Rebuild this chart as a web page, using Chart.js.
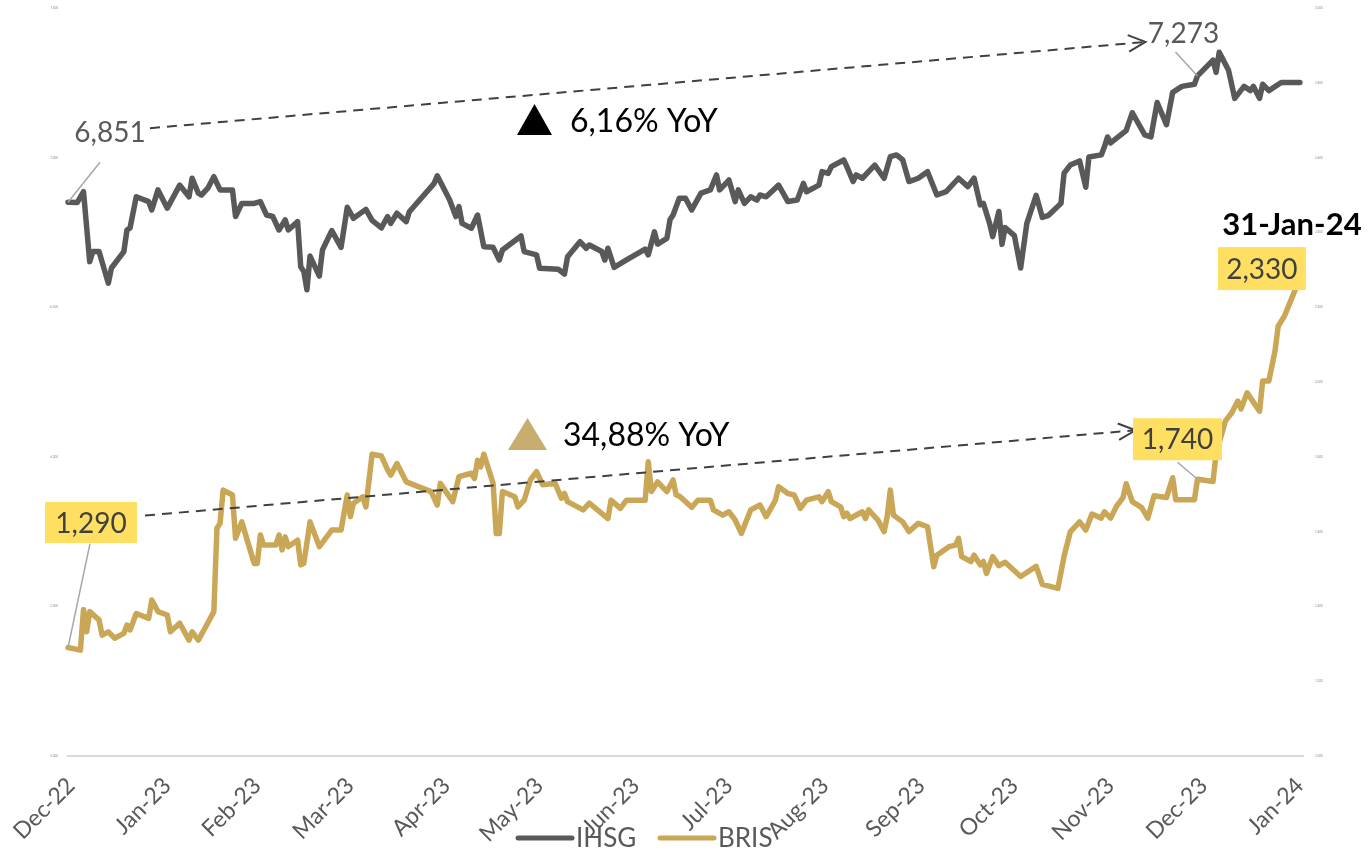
<!DOCTYPE html>
<html lang="en">
<head>
<meta charset="UTF-8">
<title>IHSG vs BRIS</title>
<script src="https://cdn.jsdelivr.net/npm/chart.js@4"></script>
<style>
  body { margin: 0; background: #fff; }
  .wrap { position: relative; width: 1370px; height: 851px; }
</style>
</head>
<body>
<div class="wrap"><canvas id="chart"></canvas></div>
<script>
// x values are days counted from 30-Dec-2022
const tickDays = [0, 31, 60, 90, 121, 151, 182, 212, 243, 274, 304, 335, 365, 396];
const tickLabels = ['Dec-22', 'Jan-23', 'Feb-23', 'Mar-23', 'Apr-23', 'May-23', 'Jun-23',
    'Jul-23', 'Aug-23', 'Sep-23', 'Oct-23', 'Nov-23', 'Dec-23', 'Jan-24'];

const ihsgDays = [
    0, 3, 5, 7, 8, 10, 13, 14, 18, 19,
    20, 22, 26, 27, 29, 32, 36, 39, 40, 42,
    43, 45, 47, 49, 53, 54, 56, 60, 62, 64,
    66, 68, 70, 71, 74, 75, 76, 77, 78, 81,
    82, 85, 88, 90, 92, 96, 98, 101, 103, 104,
    106, 109, 110, 118, 119, 123, 125, 126, 127, 130,
    132, 134, 137, 139, 140, 146, 147, 151, 152, 158,
    160, 161, 165, 167, 168, 172, 173, 174, 176, 180,
    186, 187, 189, 190, 193, 194, 195, 197, 199, 201,
    204, 207, 209, 210, 213, 215, 216, 218, 220, 222,
    223, 225, 229, 232, 235, 237, 238, 242, 243, 245,
    246, 250, 251, 253, 254, 256, 260, 263, 265, 267,
    269, 271, 274, 277, 280, 283, 287, 290, 292, 294,
    295, 297, 298, 300, 301, 302, 305, 307, 309, 312,
    314, 316, 320, 321, 323, 326, 328, 329, 333, 334,
    335, 336, 341, 343, 347, 349, 351, 354, 356, 359,
    363, 364, 369, 370, 371, 374, 376, 379, 381, 382,
    384, 385, 387, 391, 397
];
const ihsgValues = [
    6851, 6850, 6886, 6652, 6686, 6686, 6580, 6631, 6686, 6758,
    6765, 6869, 6853, 6825, 6892, 6831, 6908, 6869, 6931, 6881,
    6875, 6897, 6936, 6892, 6892, 6803, 6847, 6847, 6853, 6808,
    6803, 6758, 6792, 6758, 6786, 6635, 6619, 6558, 6671, 6604,
    6691, 6756, 6700, 6834, 6797, 6827, 6790, 6765, 6803, 6780,
    6814, 6786, 6819, 6914, 6939, 6858, 6803, 6836, 6780, 6764,
    6808, 6702, 6700, 6658, 6691, 6738, 6686, 6675, 6630, 6627,
    6611, 6669, 6719, 6697, 6708, 6686, 6658, 6697, 6633, 6658,
    6694, 6675, 6752, 6711, 6730, 6792, 6808, 6864, 6864, 6825,
    6881, 6892, 6942, 6892, 6925, 6853, 6892, 6847, 6869, 6858,
    6875, 6869, 6908, 6853, 6858, 6914, 6886, 6908, 6953, 6947,
    6970, 6992, 6970, 6920, 6942, 6931, 6975, 6931, 7003, 7009,
    6992, 6920, 6931, 6953, 6875, 6886, 6931, 6903, 6931, 6842,
    6847, 6780, 6736, 6820, 6710, 6766, 6739, 6631, 6780, 6874,
    6800, 6807, 6847, 6948, 6975, 6989, 6901, 7002, 7009, 7036,
    7069, 7049, 7090, 7150, 7076, 7069, 7184, 7110, 7218, 7238,
    7245, 7273, 7326, 7285, 7352, 7292, 7198, 7238, 7224, 7238,
    7198, 7245, 7224, 7251, 7251
];

const brisDays = [
    0, 4, 5, 6, 7, 10, 11, 13, 15, 18,
    19, 20, 22, 26, 27, 29, 32, 33, 36, 39,
    40, 42, 45, 47, 48, 49, 50, 53, 54, 56,
    60, 61, 62, 63, 67, 68, 69, 70, 71, 74,
    75, 76, 78, 81, 85, 88, 90, 91, 92, 95,
    96, 98, 101, 103, 104, 106, 109, 117, 119, 120,
    124, 126, 130, 131, 132, 133, 134, 137, 138, 139,
    140, 144, 145, 147, 149, 151, 153, 157, 159, 160,
    161, 166, 168, 174, 175, 178, 180, 186, 187, 188,
    190, 193, 195, 196, 197, 201, 203, 207, 208, 211,
    213, 215, 217, 220, 223, 225, 228, 229, 232, 234,
    236, 238, 242, 243, 245, 246, 249, 250, 251, 252,
    256, 257, 258, 261, 263, 264, 265, 266, 269, 271,
    274, 277, 279, 280, 284, 286, 287, 288, 291, 292,
    294, 295, 296, 298, 300, 302, 307, 312, 314, 319,
    320, 321, 323, 326, 328, 330, 333, 334, 336, 338,
    340, 341, 343, 346, 348, 350, 354, 356, 357, 363,
    364, 369, 370, 373, 375, 377, 378, 380, 384, 385,
    387, 389, 390, 392, 396, 397
];
const brisValues = [
    1290, 1283, 1392, 1332, 1386, 1364, 1323, 1332, 1315, 1328,
    1350, 1337, 1381, 1368, 1417, 1386, 1377, 1332, 1355, 1310,
    1332, 1310, 1355, 1386, 1609, 1622, 1711, 1698, 1582, 1626,
    1515, 1515, 1591, 1564, 1564, 1591, 1551, 1586, 1560, 1577,
    1511, 1515, 1626, 1560, 1604, 1604, 1698, 1640, 1676, 1693,
    1666, 1807, 1802, 1765, 1751, 1782, 1733, 1707, 1671, 1729,
    1680, 1747, 1756, 1742, 1791, 1773, 1807, 1729, 1595, 1595,
    1707, 1693, 1666, 1684, 1738, 1760, 1725, 1729, 1689, 1702,
    1680, 1658, 1676, 1635, 1684, 1662, 1684, 1684, 1787, 1707,
    1733, 1707, 1738, 1698, 1695, 1665, 1684, 1684, 1658, 1644,
    1653, 1631, 1595, 1658, 1671, 1640, 1684, 1720, 1702, 1698,
    1662, 1684, 1693, 1680, 1707, 1680, 1666, 1640, 1649, 1635,
    1653, 1635, 1658, 1631, 1600, 1640, 1711, 1644, 1626, 1600,
    1622, 1613, 1506, 1537, 1560, 1564, 1582, 1533, 1520, 1537,
    1511, 1520, 1488, 1533, 1509, 1518, 1480, 1507, 1459, 1448,
    1491, 1534, 1599, 1626, 1604, 1647, 1636, 1653, 1636, 1669,
    1691, 1728, 1680, 1664, 1636, 1696, 1691, 1744, 1685, 1685,
    1740, 1734, 1809, 1896, 1917, 1949, 1928, 1971, 1922, 2003,
    2003, 2084, 2149, 2176, 2257, 2330
];

// labelled points: end-2022 close, end-2023 close, last day
const markDays = [0, 364, 397];
const ihsgMarks = [6851, 7273];
const brisMarks = [1290, 1740, 2330];
const lastDateLabel = '31-Jan-24';
const yoyLabels = ['6,16% YoY', '34,88% YoY'];

const IHSG_COLOR = '#595959';
const BRIS_COLOR = '#C9A756';
const BOX_COLOR = '#FFDF61';
const FONT = 'Lato, "Open Sans", sans-serif';

const fmt = v => v.toLocaleString('en-US');

function leader(ctx, x1, y1, x2, y2) {
    ctx.save();
    ctx.strokeStyle = '#A6A6A6';
    ctx.lineWidth = 1.5;
    ctx.beginPath();
    ctx.moveTo(x1, y1);
    ctx.lineTo(x2, y2);
    ctx.stroke();
    ctx.restore();
}

function dashedArrow(ctx, x1, y1, x2, y2) {
    ctx.save();
    ctx.strokeStyle = '#404040';
    ctx.lineWidth = 2;
    ctx.setLineDash([10, 7]);
    ctx.beginPath();
    ctx.moveTo(x1, y1);
    ctx.lineTo(x2, y2);
    ctx.stroke();
    ctx.setLineDash([]);
    const a = Math.atan2(y2 - y1, x2 - x1);
    const len = 19, spread = 0.45;
    ctx.beginPath();
    ctx.moveTo(x2 - len * Math.cos(a - spread), y2 - len * Math.sin(a - spread));
    ctx.lineTo(x2, y2);
    ctx.lineTo(x2 - len * Math.cos(a + spread), y2 - len * Math.sin(a + spread));
    ctx.stroke();
    ctx.restore();
}

function text(ctx, str, x, y, font, color, align) {
    ctx.save();
    ctx.font = font;
    ctx.fillStyle = color;
    ctx.textAlign = align || 'center';
    ctx.textBaseline = 'middle';
    ctx.fillText(str, x, y);
    ctx.restore();
}

function box(ctx, str, cx, cy, w, h) {
    ctx.save();
    ctx.fillStyle = BOX_COLOR;
    ctx.fillRect(cx - w / 2, cy - h / 2, w, h);
    ctx.restore();
    text(ctx, str, cx, cy + 1, '28px ' + FONT, '#404040');
}

function triangle(ctx, left, base, w, h, color) {
    ctx.save();
    ctx.fillStyle = color;
    ctx.beginPath();
    ctx.moveTo(left, base);
    ctx.lineTo(left + w, base);
    ctx.lineTo(left + w / 2, base - h);
    ctx.closePath();
    ctx.fill();
    ctx.restore();
}

const calloutPlugin = {
    id: 'callouts',
    afterDatasetsDraw(chart) {
        const { ctx, scales: { x, y, y1 } } = chart;
        const p1 = { x: x.getPixelForValue(markDays[0]), y: y.getPixelForValue(ihsgMarks[0]) };
        const p2 = { x: x.getPixelForValue(markDays[1]), y: y.getPixelForValue(ihsgMarks[1]) };
        const b1 = { x: x.getPixelForValue(markDays[0]), y: y1.getPixelForValue(brisMarks[0]) };
        const b2 = { x: x.getPixelForValue(markDays[1]), y: y1.getPixelForValue(brisMarks[1]) };
        const b3 = { x: x.getPixelForValue(markDays[2]), y: y1.getPixelForValue(brisMarks[2]) };

        // IHSG callouts
        leader(ctx, p1.x, p1.y, p1.x + 32, p1.y - 40);
        text(ctx, fmt(ihsgMarks[0]), p1.x + 42, p1.y - 69, '28px ' + FONT, '#595959');
        leader(ctx, p2.x, p2.y, p2.x - 22, p2.y - 24);
        text(ctx, fmt(ihsgMarks[1]), p2.x - 14, p2.y - 42, '28px ' + FONT, '#595959');
        dashedArrow(ctx, p1.x + 82, p1.y - 74, p2.x - 52, p2.y - 34);

        // BRIS callouts
        leader(ctx, b1.x, b1.y, b1.x + 22, b1.y - 104);
        dashedArrow(ctx, b1.x + 77, b1.y - 132, b2.x - 62, b2.y - 49);
        box(ctx, fmt(brisMarks[0]), b1.x + 23, b1.y - 125, 92, 41);
        leader(ctx, b2.x, b2.y, b2.x - 20, b2.y - 17);
        box(ctx, fmt(brisMarks[1]), b2.x - 20, b2.y - 40, 89, 42);
        box(ctx, fmt(brisMarks[2]), b3.x - 38, b3.y + 10, 88, 43);
        text(ctx, lastDateLabel, b3.x - 8, b3.y - 34, 'bold 31px ' + FONT, '#000000');

        // YoY notes
        triangle(ctx, 517, 135, 35, 31, '#000000');
        text(ctx, yoyLabels[0], 570, 122, '32px ' + FONT, '#000000', 'left');
        triangle(ctx, 508, 450, 39, 32, '#C9AD6E');
        text(ctx, yoyLabels[1], 563, 436, '32px ' + FONT, '#000000', 'left');
    },
    afterDraw(chart) {
        // legend, drawn over the month labels as in the original
        const ctx = chart.ctx;
        const cx = chart.width / 2;
        const ly = 838;
        const items = [
            { label: 'IHSG', color: IHSG_COLOR, x: cx - 167 },
            { label: 'BRIS', color: BRIS_COLOR, x: cx - 25 }
        ];
        items.forEach(it => {
            ctx.save();
            ctx.strokeStyle = it.color;
            ctx.lineWidth = 5;
            ctx.lineCap = 'round';
            ctx.beginPath();
            ctx.moveTo(it.x, ly);
            ctx.lineTo(it.x + 54, ly);
            ctx.stroke();
            ctx.restore();
            text(ctx, it.label, it.x + 58, ly + 1, '26px ' + FONT, '#595959', 'left');
        });
    }
};

const ctx = document.getElementById('chart').getContext('2d');
new Chart(ctx, {
    type: 'line',
    data: {
        datasets: [{
            label: 'IHSG',
            data: ihsgDays.map((d, i) => ({ x: d, y: ihsgValues[i] })),
            borderColor: IHSG_COLOR,
            borderWidth: 5.5,
            pointRadius: 0,
            tension: 0,
            borderJoinStyle: 'round',
            borderCapStyle: 'round',
            yAxisID: 'y',
            clip: 10
        }, {
            label: 'BRIS',
            data: brisDays.map((d, i) => ({ x: d, y: brisValues[i] })),
            borderColor: BRIS_COLOR,
            borderWidth: 5.5,
            pointRadius: 0,
            tension: 0,
            borderJoinStyle: 'round',
            borderCapStyle: 'round',
            yAxisID: 'y1',
            clip: 10
        }]
    },
    options: {
        responsive: true,
        maintainAspectRatio: false,
        animation: false,
        layout: { padding: { top: 8, left: 0, right: 0, bottom: 0 } },
        plugins: {
            legend: { display: false },
            tooltip: { enabled: false }
        },
        scales: {
            x: {
                type: 'linear',
                min: 0,
                max: 398,
                grid: { display: false },
                border: { display: true, color: '#D9D9D9', width: 2 },
                afterBuildTicks: axis => {
                    axis.ticks = tickDays.map(v => ({ value: v }));
                },
                afterFit: axis => { axis.height = 95; },
                ticks: {
                    autoSkip: false,
                    maxRotation: 45,
                    minRotation: 45,
                    padding: 8,
                    labelOffset: 3,
                    color: '#595959',
                    font: { family: FONT, size: 23 },
                    callback: v => tickLabels[tickDays.indexOf(v)]
                }
            },
            y: {
                position: 'left',
                min: 5000,
                max: 7500,
                grid: { display: false },
                border: { display: false },
                afterFit: axis => { axis.width = 68; },
                ticks: {
                    stepSize: 500,
                    padding: 2,
                    color: '#8C8C8C',
                    font: { family: FONT, size: 3 },
                    callback: v => fmt(v)
                }
            },
            y1: {
                position: 'right',
                min: 1000,
                max: 3000,
                grid: { display: false },
                border: { display: false },
                afterFit: axis => { axis.width = 67; },
                ticks: {
                    stepSize: 200,
                    padding: 4,
                    color: '#8C8C8C',
                    font: { family: FONT, size: 3 },
                    callback: v => fmt(v)
                }
            }
        }
    },
    plugins: [calloutPlugin]
});
</script>
</body>
</html>
